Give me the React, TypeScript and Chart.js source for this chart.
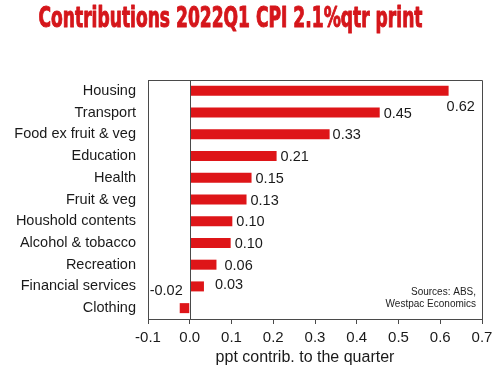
import React, { useEffect, useRef } from "react";
import { Chart, registerables } from "chart.js";

Chart.register(...registerables);

const TITLE = "Contributions 2022Q1 CPI 2.1%qtr print";
const categories = [
  "Housing",
  "Transport",
  "Food ex fruit & veg",
  "Education",
  "Health",
  "Fruit & veg",
  "Houshold contents",
  "Alcohol & tobacco",
  "Recreation",
  "Financial services",
  "Clothing",
];
const values = [0.62, 0.455, 0.335, 0.208, 0.148, 0.136, 0.102, 0.098, 0.064, 0.034, -0.024];
const valueLabels = ["0.62", "0.45", "0.33", "0.21", "0.15", "0.13", "0.10", "0.10", "0.06", "0.03", "-0.02"];
const xTicks = [-0.1, 0.0, 0.1, 0.2, 0.3, 0.4, 0.5, 0.6, 0.7];
const xTitle = "ppt contrib. to the quarter";
const sources = ["Sources: ABS,", "Westpac Economics"];

// label placement tweaks (px) relative to bar end
const labelDx = [-2, 4, 3, 4, 4, 4, 4, 4, 8, 11, 3];
const labelDy = [16, 1, 1, 1, 1, 1, 1, 1, 1, -1, -17];

const RED = "#DE1518";
const AXIS = "#4a4a4a";
const FONT = "'Liberation Sans', Arial, sans-serif";

const decor = {
  id: "decor",
  afterDatasetsDraw(chart: any) {
    const { ctx, chartArea } = chart;
    const x = chart.scales.x;
    ctx.save();
    // top and right border
    ctx.strokeStyle = AXIS;
    ctx.lineWidth = 1;
    ctx.beginPath();
    ctx.moveTo(chartArea.left, chartArea.top + 0.5);
    ctx.lineTo(chartArea.right + 0.5, chartArea.top + 0.5);
    ctx.lineTo(chartArea.right + 0.5, chartArea.bottom);
    ctx.stroke();
    // zero line
    const zx = Math.round(x.getPixelForValue(0)) + 0.5;
    ctx.beginPath();
    ctx.moveTo(zx, chartArea.top);
    ctx.lineTo(zx, chartArea.bottom);
    ctx.stroke();

    // value labels
    const meta = chart.getDatasetMeta(0);
    ctx.fillStyle = "#1a1a1a";
    ctx.font = `14.5px ${FONT}`;
    ctx.textBaseline = "middle";
    meta.data.forEach((bar: any, i: number) => {
      const v = values[i];
      const txt = valueLabels[i];
      ctx.textAlign = v >= 0 ? "left" : "right";
      ctx.fillText(txt, bar.x + labelDx[i], bar.y + labelDy[i]);
    });

    // sources
    ctx.font = `10px ${FONT}`;
    ctx.fillStyle = "#222";
    ctx.textAlign = "right";
    ctx.fillText(sources[0], chartArea.right - 6, chartArea.bottom - 27);
    ctx.fillText(sources[1], chartArea.right - 6, chartArea.bottom - 15);

    // x axis title
    ctx.font = `16px ${FONT}`;
    ctx.fillStyle = "#1a1a1a";
    ctx.textAlign = "center";
    ctx.fillText(xTitle, (chartArea.left + chartArea.right) / 2 - 10, 358);

    // main title
    ctx.font = `bold 28px 'Liberation Sans Narrow', 'DejaVu Sans Condensed', sans-serif`;
    ctx.fillStyle = "#D5161B";
    ctx.strokeStyle = "#D5161B";
    ctx.lineWidth = 1;
    ctx.lineJoin = "round";
    ctx.textAlign = "left";
    ctx.textBaseline = "alphabetic";
    ctx.fillText(TITLE, 38.5, 27, 384);
    ctx.strokeText(TITLE, 38.5, 27, 384);
    ctx.restore();
  },
};

export default function App() {
  const ref = useRef<HTMLCanvasElement>(null);
  useEffect(() => {
    if (!ref.current) return;
    const chart = new Chart(ref.current, {
      type: "bar",
      data: {
        labels: categories,
        datasets: [
          {
            data: values,
            backgroundColor: RED,
            borderWidth: 0,
            barPercentage: 0.46,
            categoryPercentage: 1,
          },
        ],
      },
      options: {
        indexAxis: "y",
        responsive: false,
        animation: false,
        layout: { padding: { left: 0, right: 18, top: 80, bottom: 0 } },
        plugins: {
          legend: { display: false },
          tooltip: { enabled: false },
          title: { display: false },
        },
        scales: {
          x: {
            type: "linear",
            min: xTicks[0],
            max: xTicks[xTicks.length - 1],
            afterBuildTicks: (scale: any) => {
              scale.ticks = xTicks.map((v) => ({ value: v }));
            },
            afterFit: (scale: any) => {
              scale.height = 55;
            },
            ticks: {
              color: "#1a1a1a",
              font: { size: 15, family: FONT },
              padding: 5,
              callback: (v: any) => Number(v).toFixed(1),
              maxRotation: 0,
              autoSkip: false,
            },
            grid: {
              display: true,
              drawOnChartArea: false,
              drawTicks: true,
              tickLength: 5,
              color: AXIS,
            },
            border: { display: true, color: AXIS, width: 1 },
          },
          y: {
            afterFit: (scale: any) => {
              scale.width = 148;
            },
            ticks: {
              color: "#1a1a1a",
              font: { size: 14.5, family: FONT },
              padding: 12,
              autoSkip: false,
            },
            grid: { display: false, drawTicks: false },
            border: { display: true, color: AXIS, width: 1 },
          },
        },
      },
      plugins: [decor],
    });
    return () => chart.destroy();
  }, []);
  return (
    <div style={{ position: "absolute", left: 0, top: 0, width: 500, height: 374, background: "#fff" }}>
      <canvas ref={ref} width={500} height={374} />
    </div>
  );
}
